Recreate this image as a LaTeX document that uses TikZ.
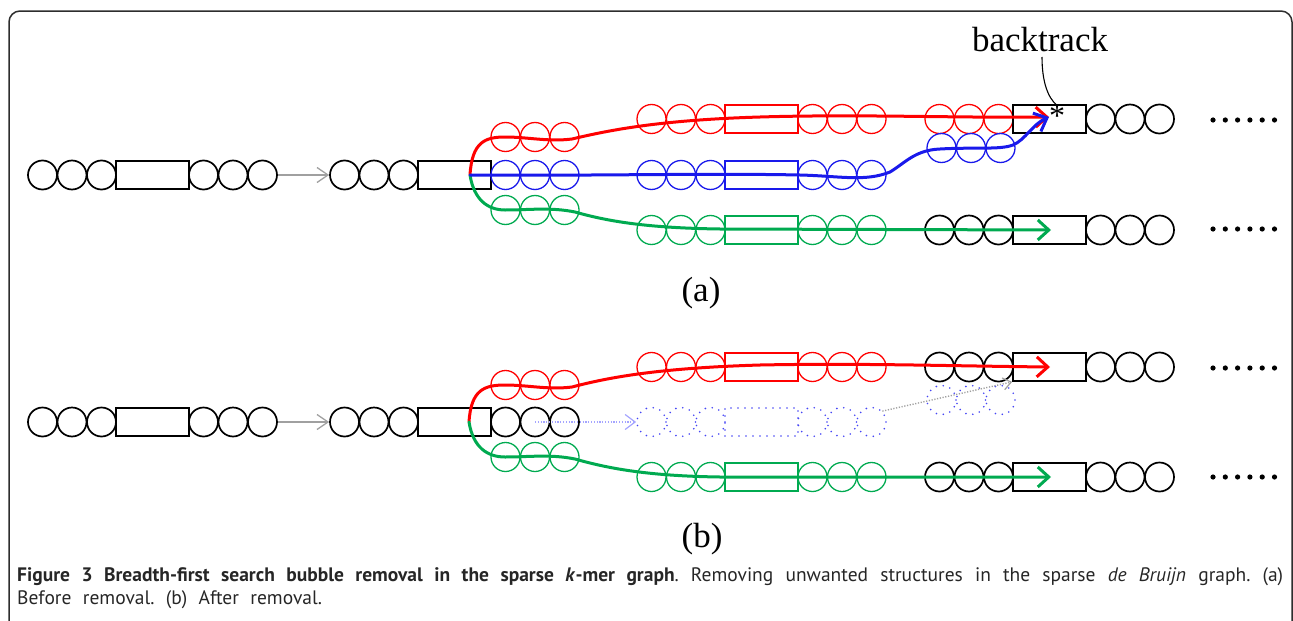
\documentclass[tikz,border=0pt]{standalone}
\usepackage{fontspec}
\setmainfont{Liberation Serif}
\newfontfamily\capfont[WordSpace=2.2]{PT Sans}
\usetikzlibrary{arrows.meta}

\definecolor{kred}{RGB}{255,0,0}
\definecolor{kblue}{RGB}{25,25,235}
\definecolor{kgreen}{RGB}{0,170,80}
\definecolor{ghostblue}{RGB}{70,70,245}
\definecolor{paleblue}{RGB}{165,165,255}
\definecolor{framegray}{RGB}{45,45,45}
\definecolor{linkgray}{RGB}{160,160,160}

\tikzset{
  x=1pt, y=-1pt,
  kmer/.style={circle, draw, line width=1.7pt, minimum size=29pt, inner sep=0pt},
  kblock/.style={rectangle, draw, line width=1.7pt, minimum width=73pt, minimum height=28pt, inner sep=0pt},
  redk/.style={draw=kred, line width=1.3pt},
  bluek/.style={draw=kblue, line width=1.3pt},
  greenk/.style={draw=kgreen, line width=1.3pt},
  ghostk/.style={draw=ghostblue, line width=1.8pt, line cap=round, dash pattern=on 0pt off 7pt},
  walk/.style={line width=3pt, line cap=round, -{Straight Barb[length=11pt,width=20pt,line width=3pt]}},
  link/.style={draw=linkgray, line width=1.3pt, -{Straight Barb[length=11pt,width=15pt,line width=1.3pt]}},
  plabel/.style={font=\fontsize{35}{40}\selectfont, inner sep=0pt},
}

% three k-mer circles starting at left edge #2
\newcommand\ktrip[4]{%
  \foreach \i/\dx in {1/14.5,2/44,3/73.5}
    \node[kmer,#4] (#1\i) at ({#2+\dx},#3) {};
}
% three k-mer circles followed by a block
\newcommand\khead[4]{%
  \ktrip{#1}{#2}{#3}{#4}%
  \node[kblock,#4] (#1r) at ({#2+124.5},#3) {};
}
% full chain: circles, block, circles
\newcommand\kchain[4]{%
  \khead{#1}{#2}{#3}{#4}%
  \ktrip{#1t}{#2+161}{#3}{#4}%
}
% trailing dots
\newcommand\kdots[2]{%
  \foreach \k in {0,...,5}
    \fill ({#1+\k*12.3},#2) circle (2.6pt);
}

\begin{document}
\begin{tikzpicture}
\useasboundingbox (0,0) rectangle (1293,621);

% outer frame
\begin{scope}
  \clip (0,0) rectangle (1293,621);
  \draw[framegray, line width=1.5pt, rounded corners=11pt]
    (9,700) -- (9,11) -- (1292,11) -- (1292,700);
\end{scope}

% ================= (a) before removal =================
\kchain{aa}{28}{175}{}
\khead{ab}{330}{175}{}
\draw[link] (aat3.east) -- (ab1.west);

\ktrip{abr}{491}{137}{redk}
\ktrip{abb}{491}{175}{bluek}
\ktrip{abg}{491}{210}{greenk}

\kchain{amr}{637}{119}{redk}
\kchain{amb}{637}{175}{bluek}
\kchain{amg}{637}{230}{greenk}

\ktrip{arr}{925}{119}{redk}
\node[kblock] (arb) at (1049.5,119) {};
\ktrip{art}{1086}{119}{}
\ktrip{aru}{927}{148}{bluek}
\kchain{arg}{925}{230}{}

\kdots{1213}{120}
\kdots{1213}{229}

\coordinate (aroot) at (470,175);
\coordinate (astar) at (1049,117);
\coordinate (agend) at (1051,230);

\draw[walk, kred] (aroot) .. controls (472,142) and (485,137) .. (505,137)
  .. controls (528,137) and (548,142) .. (572,139)
  .. controls (610,130) and (660,120) .. (760,117)
  .. controls (860,114) and (950,118) .. (astar);
\draw[walk, kgreen] (aroot) .. controls (474,200) and (488,210) .. (505,210)
  .. controls (530,210) and (550,207) .. (575,212)
  .. controls (610,222) and (650,228) .. (720,229)
  -- (agend);
\draw[walk, kblue] (aroot) .. controls (600,176) and (700,173) .. (800,175)
  .. controls (840,176) and (865,182) .. (890,172)
  .. controls (905,163) and (915,150) .. (940,149)
  .. controls (975,147) and (1000,150) .. (1013,145)
  .. controls (1025,140) and (1033,124) .. (astar);

\node[font=\fontsize{32}{32}\selectfont, inner sep=0pt] (star) at (1057,116) {*};
\node[plabel] (bt) at (1040,40) {backtrack};
\draw[line width=1.1pt] (1042,57) .. controls (1042,82) and (1048,98) .. (star.north);

\node[plabel] (la) at (701,293) {(a)};

% ================= (b) after removal =================
\kchain{ba}{28}{422}{}
\khead{bb}{330}{422}{}
\draw[link] (bat3.east) -- (bb1.west);

\ktrip{bbr}{491}{385}{redk}
\ktrip{bbk}{491}{422}{}
\ktrip{bbg}{491}{457}{greenk}

\kchain{bmr}{637}{367}{redk}
\kchain{bmx}{637}{422}{ghostk}
\kchain{bmg}{637}{477}{greenk}

\kchain{brr}{925}{367}{}
\ktrip{bru}{927}{400}{ghostk}
\kchain{brg}{925}{477}{}

\kdots{1213}{368}
\kdots{1213}{477}

\coordinate (broot) at (469,422);
\coordinate (bredend) at (1050,367);
\coordinate (bgend) at (1051,477);
\coordinate (bghost) at (535,422);

\draw[paleblue, line width=1.4pt, dash pattern=on 1.2pt off 1.6pt,
  -{Straight Barb[length=10pt,width=15pt,line width=1.2pt]}]
  (bghost) -- (bmx1.west);
\draw[linkgray, line width=1.4pt, dash pattern=on 1.2pt off 1.6pt,
  -{Straight Barb[length=8pt,width=12pt,line width=1.2pt]}]
  (bmxt3.north east) -- (brrr.south west);

\draw[walk, kred] (broot) .. controls (471,390) and (484,385) .. (505,385)
  .. controls (528,385) and (548,390) .. (572,387)
  .. controls (610,377) and (660,368) .. (760,365)
  .. controls (860,363) and (950,366) .. (bredend);
\draw[walk, kgreen] (broot) .. controls (473,447) and (487,457) .. (505,457)
  .. controls (530,457) and (550,454) .. (575,459)
  .. controls (610,469) and (650,476) .. (720,477)
  -- (bgend);

\node[plabel] (lb) at (702,539) {(b)};

% ================= caption =================
\node[anchor=north west, inner sep=0pt, text width=1266pt, align=justify,
  font=\capfont\fontsize{19.5}{23.5}\selectfont\frenchspacing, text=black!85] (cap) at (17,567)
  {\textbf{Figure 3 Breadth-first search bubble removal in the sparse \textit{k}-mer graph}. Removing unwanted structures in the sparse \textit{de Bruijn} graph. (a)\linebreak Before removal. (b) After removal.};
\end{tikzpicture}
\end{document}
